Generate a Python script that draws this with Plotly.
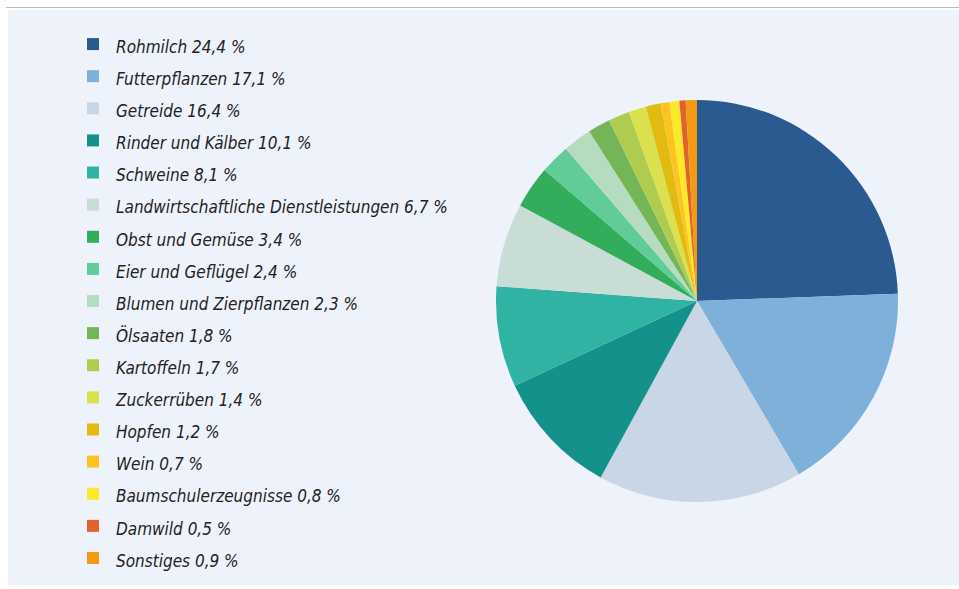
import plotly.graph_objects as go

# ---- data ----
categories = [
    "Rohmilch", "Futterpflanzen", "Getreide", "Rinder und Kälber", "Schweine",
    "Landwirtschaftliche Dienstleistungen", "Obst und Gemüse", "Eier und Geflügel",
    "Blumen und Zierpflanzen", "Ölsaaten", "Kartoffeln", "Zuckerrüben", "Hopfen",
    "Wein", "Baumschulerzeugnisse", "Damwild", "Sonstiges",
]
shares = [24.4, 17.1, 16.4, 10.1, 8.1, 6.7, 3.4, 2.4, 2.3, 1.8, 1.7, 1.4, 1.2, 0.7, 0.8, 0.5, 0.9]
colors = [
    "#2b5a91", "#7fb0da", "#c9d6e5", "#14918a", "#31b3a3", "#c8ddd6", "#31ad5c",
    "#62cc98", "#b6dcc0", "#73b557", "#afcc50", "#dbe04e", "#e2bb10", "#fdc421",
    "#fde92a", "#e2622a", "#f19a12",
]

W, H = 959, 589

def fmt(v):
    return f"{v:.1f}".replace(".", ",")

labels = [f"<span style='font-size:17px'>{c} {fmt(v)} %</span>" for c, v in zip(categories, shares)]

fig = go.Figure()
fig.add_trace(go.Pie(
    labels=labels,
    values=shares,
    marker=dict(colors=colors, line=dict(width=0)),
    sort=False,
    direction="clockwise",
    rotation=0,
    textinfo="none",
    hoverinfo="label+percent",
    domain=dict(x=[496 / W, 898 / W], y=[1 - 502 / H, 1 - 100 / H]),
    showlegend=True,
))

fig.update_layout(
    width=W, height=H,
    margin=dict(l=0, r=0, t=0, b=0),
    paper_bgcolor="white",
    plot_bgcolor="white",
    shapes=[
        dict(type="rect", xref="paper", yref="paper", x0=8 / W, x1=1, y0=4 / H, y1=1 - 10 / H,
             fillcolor="#eef2fa", line=dict(width=0), layer="below"),
        dict(type="line", xref="paper", yref="paper", x0=6 / W, x1=1, y0=1 - 7.5 / H, y1=1 - 7.5 / H,
             line=dict(color="#bdbdbd", width=1.2), layer="below"),
    ],
    legend=dict(
        x=70 / W, xanchor="left",
        y=1 - 23 / H, yanchor="top",
        bgcolor="rgba(0,0,0,0)",
        itemwidth=36,
        font=dict(family="Liberation Sans Narrow, DejaVu Sans Condensed, Arial Narrow, sans-serif",
                  size=22.4, color="#222222", style="italic"),
        traceorder="normal",
    ),
)

fig.write_html(
    "out.html",
    config={"displayModeBar": False},
    post_script="document.body.style.margin='0';document.body.style.overflow='hidden';",
)
